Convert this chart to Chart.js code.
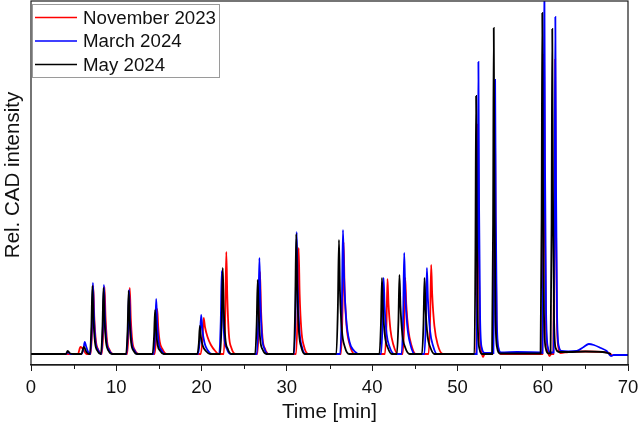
<!DOCTYPE html>
<html>
<head>
<meta charset="utf-8">
<script src="https://cdn.jsdelivr.net/npm/chart.js@4.4.0/dist/chart.umd.min.js"></script>
<style>
  html, body { margin: 0; padding: 0; background: #fff; }
  #wrap { width: 638px; height: 428px; }
</style>
</head>
<body>
<div id="wrap"><canvas id="grafica" width="638" height="428"></canvas></div>
<script>
// etiquetas y ticks
const seriesLabels = ['November 2023', 'March 2024', 'May 2024'];
const seriesColors = ['#ff0000', '#0000ff', '#000000'];
const majorTicks = [0, 10, 20, 30, 40, 50, 60, 70];
const minorTicks = [5, 15, 25, 35, 45, 55, 65];

// [tiempo (min), intensidad relativa]
const novData = [
  [0, 0], [5.5, 0], [5.8, 7], [6.1, 5], [6.5, 0],
  [7.0, 0], [7.18, 27], [7.3, 68], [7.42, 37], [7.6, 14], [7.9, 4], [8.3, 0],
  [8.5, 27], [8.62, 67], [8.74, 37], [8.92, 13], [9.22, 4], [9.6, 0],
  [11.28, 0], [11.46, 26], [11.58, 66], [11.7, 36], [11.88, 13], [12.18, 4], [12.6, 0],
  [14.5, 0], [14.68, 18], [14.8, 45], [14.92, 27], [15.1, 12], [15.4, 5], [15.9, 0],
  [19.9, 0], [20.1, 14], [20.25, 36], [20.4, 27], [20.7, 17], [21.1, 9], [21.6, 3], [22.0, 0],
  [22.6, 0], [22.78, 41], [22.9, 102], [23.02, 56], [23.2, 20], [23.5, 6], [24.0, 0],
  [26.55, 0], [26.73, 33], [26.85, 82], [26.97, 45], [27.15, 16], [27.45, 5], [27.9, 0],
  [31.08, 0], [31.26, 42], [31.38, 106], [31.5, 60], [31.7, 24], [32.0, 8], [32.5, 0],
  [36.35, 0], [36.53, 45], [36.65, 112], [36.77, 65], [37.0, 28], [37.35, 10], [37.95, 0],
  [41.5, 0], [41.68, 30], [41.8, 75], [41.92, 50], [42.15, 24], [42.5, 9], [43.0, 0],
  [43.58, 0], [43.76, 30], [43.88, 76], [44.0, 50], [44.25, 24], [44.6, 9], [45.1, 0],
  [46.62, 0], [46.8, 36], [46.92, 89], [47.04, 60], [47.3, 28], [47.7, 9], [48.3, 0],
  [52.2, 0], [52.32, 92], [52.41, 230], [52.49, 115], [52.61, 28], [52.8, 4], [53.0, -3], [53.2, 0],
  [54.18, 0], [54.3, 100], [54.39, 250], [54.47, 125], [54.59, 30], [54.8, 5], [55.1, 0],
  [59.95, 0], [60.07, 120], [60.16, 300], [60.24, 150], [60.36, 36], [60.55, 6], [60.8, -2], [61.0, 0],
  [61.24, 0], [61.36, 120], [61.46, 295], [61.54, 148], [61.66, 36], [61.85, 6], [62.1, 1],
  [63.0, 2], [65.0, 2.5], [67.0, 2], [67.8, 1], [68.2, -2]
];

const marData = [
  [0, 0], [4.1, 0], [4.3, 2], [4.6, 0],
  [5.9, 0], [6.15, 5], [6.3, 12], [6.45, 8], [6.7, 2], [6.96, 0],
  [7.14, 28], [7.26, 71], [7.38, 38], [7.56, 13], [7.86, 4], [8.25, 0],
  [8.43, 28], [8.55, 69], [8.67, 37], [8.85, 13], [9.15, 4], [9.55, 0],
  [11.2, 0], [11.38, 26], [11.5, 64], [11.62, 34], [11.8, 12], [12.1, 4], [12.5, 0],
  [14.38, 0], [14.56, 22], [14.68, 55], [14.8, 30], [14.98, 11], [15.28, 4], [15.7, 0],
  [19.6, 0], [19.8, 15], [19.95, 39], [20.1, 24], [20.35, 11], [20.7, 4], [21.2, 0],
  [22.07, 0], [22.25, 33], [22.37, 83], [22.49, 45], [22.67, 16], [22.97, 5], [23.4, 0],
  [26.48, 0], [26.66, 38], [26.78, 96], [26.9, 52], [27.08, 18], [27.38, 5], [27.8, 0],
  [30.85, 0], [31.03, 49], [31.15, 122], [31.27, 66], [31.47, 24], [31.77, 7], [32.2, 0],
  [36.25, 0], [36.45, 50], [36.58, 124], [36.72, 75], [36.95, 36], [37.35, 12], [37.9, 3], [38.6, 0],
  [41.04, 0], [41.22, 30], [41.34, 76], [41.46, 48], [41.7, 20], [42.05, 7], [42.6, 0],
  [43.46, 0], [43.64, 40], [43.76, 101], [43.88, 62], [44.12, 28], [44.5, 9], [45.0, 0],
  [46.12, 0], [46.3, 34], [46.42, 86], [46.54, 55], [46.78, 24], [47.15, 8], [47.6, 0],
  [52.26, 0], [52.38, 117], [52.46, 292], [52.54, 146], [52.66, 35], [52.86, 6], [53.2, 1],
  [54.22, 1], [54.34, 110], [54.42, 274], [54.5, 137], [54.62, 33], [54.82, 6], [55.1, 1.5],
  [57.0, 2], [59.8, 1.5],
  [59.98, 1], [60.1, 150], [60.19, 380], [60.27, 190], [60.39, 45], [60.6, 7], [60.9, 1.5],
  [61.28, 1.5], [61.4, 135], [61.48, 337], [61.56, 168], [61.68, 40], [61.88, 8], [62.2, 3],
  [63.0, 2.5], [64.0, 3], [64.8, 7], [65.4, 10], [66.0, 9], [66.8, 6], [67.5, 3], [68.0, -2], [68.3, -1], [70.0, -1]
];

const mayData = [
  [0, 0], [4.1, 0], [4.3, 3], [4.6, 0.5], [5.0, 0],
  [5.9, 0], [6.2, 7], [6.5, 2], [6.8, 0],
  [6.9, 0], [7.08, 27], [7.2, 68], [7.32, 36], [7.5, 12], [7.8, 3], [8.2, 0],
  [8.38, 26], [8.5, 66], [8.62, 35], [8.8, 12], [9.1, 3], [9.5, 0],
  [11.15, 0], [11.33, 25], [11.45, 63], [11.57, 33], [11.75, 11], [12.05, 3], [12.45, 0],
  [14.25, 0], [14.43, 18], [14.55, 44], [14.67, 24], [14.85, 9], [15.15, 3], [15.55, 0],
  [19.5, 0], [19.68, 11], [19.8, 28], [19.92, 17], [20.15, 8], [20.5, 3], [21.0, 0],
  [22.18, 0], [22.36, 34], [22.48, 86], [22.6, 46], [22.78, 16], [23.08, 5], [23.5, 0],
  [26.28, 0], [26.46, 30], [26.58, 74], [26.7, 40], [26.88, 14], [27.18, 4], [27.6, 0],
  [30.8, 0], [30.98, 48], [31.1, 120], [31.22, 64], [31.42, 22], [31.72, 6], [32.1, 0],
  [35.8, 0], [35.98, 46], [36.11, 114], [36.23, 62], [36.45, 24], [36.8, 7], [37.3, 0],
  [40.85, 0], [41.03, 30], [41.15, 76], [41.27, 46], [41.5, 18], [41.85, 6], [42.3, 0],
  [42.9, 0], [43.08, 32], [43.2, 79], [43.32, 48], [43.55, 19], [43.9, 6], [44.4, 0],
  [45.84, 0], [46.02, 30], [46.14, 76], [46.26, 46], [46.5, 18], [46.85, 6], [47.3, 0],
  [51.99, 0], [52.11, 103], [52.19, 258], [52.27, 129], [52.39, 31], [52.59, 5], [52.9, 0],
  [54.06, 0], [54.18, 130], [54.26, 326], [54.34, 163], [54.46, 39], [54.66, 6], [55.0, 0.5],
  [59.75, 0.5], [59.87, 136], [59.95, 341], [60.03, 170], [60.15, 41], [60.35, 6], [60.7, 0.5],
  [60.92, 0.5], [61.04, 130], [61.12, 325], [61.2, 162], [61.32, 39], [61.52, 6], [61.9, 2],
  [63.0, 2], [65.0, 2.5], [67.0, 2], [67.6, 1], [68.0, 0]
];

const allData = [novData, marData, mayData];
const drawOrder = [3, 2, 1]; // noviembre abajo, mayo arriba

const FONT = "'Liberation Sans', Arial, sans-serif";

// marco, ticks menores, leyenda y titulo del eje y
const extras = {
  id: 'extras',
  afterDraw(chart) {
    const ctx = chart.ctx;
    const a = chart.chartArea;
    const x = chart.scales.x;
    ctx.save();
    ctx.strokeStyle = '#1a1a1a';
    ctx.lineWidth = 1.2;
    ctx.strokeRect(a.left, a.top, a.right - a.left, a.bottom - a.top);

    ctx.lineWidth = 1;
    minorTicks.forEach(v => {
      const px = Math.round(x.getPixelForValue(v)) + 0.5;
      ctx.beginPath();
      ctx.moveTo(px, a.bottom);
      ctx.lineTo(px, a.bottom + 4);
      ctx.stroke();
    });

    // leyenda
    const lx = a.left + 1.5, ly = 4.5;
    ctx.fillStyle = '#fff';
    ctx.fillRect(lx, ly, 187, 73);
    ctx.strokeStyle = '#9a9a9a';
    ctx.strokeRect(lx, ly, 187, 73);
    ctx.font = '18.7px ' + FONT;
    ctx.textBaseline = 'middle';
    seriesLabels.forEach((lab, i) => {
      const yy = 17.5 + i * 23.5;
      ctx.strokeStyle = seriesColors[i];
      ctx.lineWidth = 1.5;
      ctx.beginPath();
      ctx.moveTo(35, yy);
      ctx.lineTo(77, yy);
      ctx.stroke();
      ctx.fillStyle = '#111';
      ctx.fillText(lab, 83, yy + 1);
    });

    // titulo eje y
    ctx.translate(13, 175);
    ctx.rotate(-Math.PI / 2);
    ctx.textAlign = 'center';
    ctx.font = '20.5px ' + FONT;
    ctx.fillStyle = '#111';
    ctx.fillText('Rel. CAD intensity', 0, 0);
    ctx.restore();
  }
};

const ctx = document.getElementById('grafica').getContext('2d');
window.miGrafica = new Chart(ctx, {
  type: 'line',
  data: {
    datasets: allData.map((serie, i) => ({
      label: seriesLabels[i],
      data: serie.map(p => ({ x: p[0], y: p[1] })),
      borderColor: seriesColors[i],
      borderWidth: 1.8,
      pointRadius: 0,
      cubicInterpolationMode: 'monotone',
      order: drawOrder[i],
      fill: false
    }))
  },
  options: {
    responsive: false,
    animation: false,
    layout: { padding: { left: 31, right: 10, top: 1, bottom: 0 } },
    plugins: { legend: { display: false }, tooltip: { enabled: false } },
    scales: {
      x: {
        type: 'linear',
        min: 0,
        max: 70,
        afterBuildTicks: s => { s.ticks = majorTicks.map(v => ({ value: v })); },
        afterFit: s => { s.height = 63; s.paddingLeft = 0; s.paddingRight = 0; },
        grid: { drawOnChartArea: false, tickLength: 6, tickColor: '#1a1a1a', tickWidth: 1 },
        border: { display: true, color: '#1a1a1a', width: 1.2 },
        ticks: { color: '#111', font: { size: 18.5, family: FONT }, padding: 6, maxRotation: 0 },
        title: { display: true, text: 'Time [min]', color: '#111', font: { size: 20.5, family: FONT }, padding: { top: 0, bottom: 3 } }
      },
      y: {
        display: false,
        min: -11,
        max: 353
      }
    }
  },
  plugins: [extras]
});
</script>
</body>
</html>
